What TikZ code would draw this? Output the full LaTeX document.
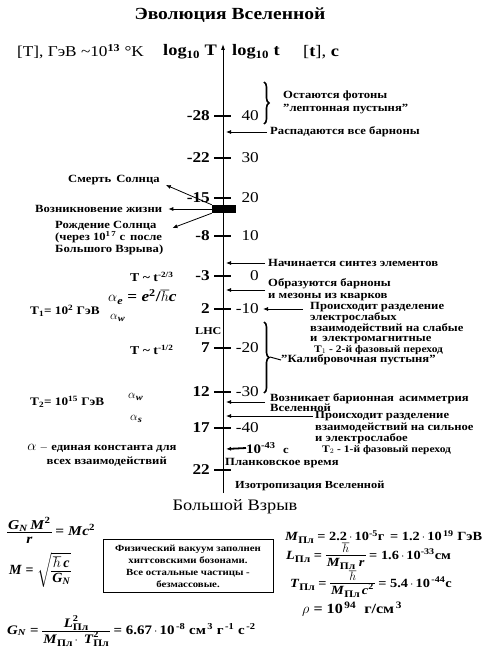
\documentclass[tikz,border=0pt]{standalone}
\usepackage{amsmath}
\usepackage{fontspec}
\setmainfont[FakeStretch=1.15]{Liberation Serif}
\newfontfamily\plainserif{Liberation Serif}
\usetikzlibrary{arrows.meta,decorations.pathreplacing,calc}
\newcommand{\vi}[1]{\textbf{\textit{#1}}}
\newcommand{\spl}{\raisebox{-3pt}{\fontsize{10}{10}\selectfont\textbf{Пл}}}
\newcommand{\splsq}{\rlap{\raisebox{6.5pt}{\fontsize{9}{9}\selectfont\textbf{2}}}\raisebox{-3pt}{\fontsize{10}{10}\selectfont\textbf{Пл}}}
\newcommand{\cd}{\,$\cdot$\,}
\newcommand{\fr}[2]{\vcenter{\hbox{\renewcommand\arraystretch{0.8}\setlength\tabcolsep{1pt}\setlength\arrayrulewidth{0.8pt}\begin{tabular}{c}#1\\\hline\rule{0pt}{10.5pt}#2\end{tabular}}}}
\begin{document}
\begin{tikzpicture}[x=1pt,y=-1pt,
  lbl/.style={inner sep=0pt, anchor=west, align=left, font=\bfseries\fontsize{11}{10}\selectfont},
  lnum/.style={inner sep=0pt, anchor=east, font=\bfseries\fontsize{15}{15}\selectfont},
  rnum/.style={inner sep=0pt, anchor=east, font=\fontsize{15}{15}\selectfont},
  arr/.style={-{Latex[length=5pt,width=4pt]}, line width=0.8pt},
  tickmark/.style={line width=1.8pt},
  brc/.style={decorate, decoration={brace, amplitude=5pt}, line width=1.6pt},
  sml/.style={inner sep=0pt, anchor=west, font=\bfseries\fontsize{10}{10}\selectfont},
  fml/.style={inner sep=0pt, anchor=west, font=\bfseries\fontsize{12.5}{12}\selectfont}
]
\useasboundingbox[fill=white] (0,0) rectangle (487,658);

% title and header
\node[font=\bfseries\fontsize{17}{17}\selectfont] (title) at (230,15) {Эволюция Вселенной};
\node[inner sep=0pt, anchor=west, font=\fontsize{15}{15}\selectfont] (hT) at (17,52) {[T], ГэВ \textasciitilde10$^{\textbf{13}}$ °K};
\node[inner sep=0pt, anchor=west, font=\bfseries\fontsize{16}{16}\selectfont] (logT) at (163,52) {log$_{\textbf{10}}$ T};
\node[inner sep=0pt, anchor=west, font=\bfseries\fontsize{16}{16}\selectfont] (logt) at (232,52) {log$_{\textbf{10}}$ t};
\node[inner sep=0pt, anchor=west, font=\fontsize{16}{16}\selectfont] (tunit) at (303,52) {[\textbf{t}], \textbf{с}};

% axis
\coordinate (axB) at (223,493);
\coordinate (axT) at (223,44);
\draw[line width=0.9pt, -{Latex[length=6pt,width=4pt]}] (axB) -- (axT);

\foreach \y/\l/\r [count=\i] in {116/-28/40, 158/-22/30, 198/-15/20, 236/-8/10, 276/-3/0, 309/2/-10, 348/7/-20, 392/12/-30, 428/17/-40, 470/22/{}} {
  \draw[tickmark] (214,\y) -- (231,\y);
  \node[lnum] (L\i) at (210,\y) {\l};
  \node[rnum] (R\i) at (259,\y) {\r};
}

% top brace
\draw[brc] (264,82) -- (264,124);
\node[lbl, anchor=north west, font=\bfseries\fontsize{11}{13}\selectfont] (foton) at (283,91) {Остаются фотоны\\"лептонная пустыня"};

% arrows to the axis on the right
\coordinate (a1) at (226,132);
\node[lbl] (raspad) at (270,132) {Распадаются все барноны};
\draw[arr, shorten <=3pt] (raspad.west) -- (a1);

\coordinate (a2) at (226,263);
\node[lbl] (sintez) at (268,263) {Начинается синтез элементов};
\draw[arr, shorten <=3pt] (sintez.west) -- (a2);

\coordinate (a3) at (226,290);
\node[lbl, anchor=north west, font=\bfseries\fontsize{11}{11.5}\selectfont] (barion) at (268,278.5) {Образуются барноны\\ и мезоны из кварков};
\draw[arr] (265,290) -- (a3);

% sun
\node[fill=black, minimum width=24pt, minimum height=8pt, inner sep=0pt] (sun) at (224,209) {};
\node[lbl] (smert) at (68,180) {Смерть\, Солнца};
\node[lbl] (zhizn) at (35,209) {Возникновение жизни};
\node[lbl, anchor=north west, font=\bfseries\fontsize{11}{12}\selectfont] (rozhd) at (55,221) {Рождение Солнца\\(через 10$^{\text{1\,7}}$ с\, после\\ Большого Взрыва)};
\draw[arr] (sun.north west) -- ($(smert.east)+(6,5)$);
\draw[arr] (sun.west) -- ($(zhizn.east)+(6,0)$);
\draw[arr] (sun.south west) -- ($(rozhd.north east)+(9,7)$);

% electroweak separation
\node[lbl, anchor=north west, font=\bfseries\fontsize{11}{9.8}\selectfont] (ew) at (310,302) {Происходит разделение\\электрослабых\\взаимодействий на слабые\\и\, электромагнитные};
\node[sml] (t1) at (314,350) {T$_1$ - 2-й фазовый переход};
\coordinate (e1s) at (303,309);
\draw[arr] (e1s) -- ($(R6.east)+(4,0)$);

% calibration desert
\draw[brc] (264,322) -- (264,393);
\coordinate (btip) at (270,357);
\node[lbl] (kal) at (281,360) {"Калибровочная пустыня"};
\draw[line width=1pt] (btip) -- (kal.west);

% baryon asymmetry
\node[lbl, anchor=north west, font=\bfseries\fontsize{11}{8.6}\selectfont] (asym) at (270,393) {Возникает барионная\, асимметрия\\ Вселенной};
\coordinate (a4) at (226,402);
\draw[arr] (265,402) -- (a4);

% strong separation
\node[lbl, anchor=north west, font=\bfseries\fontsize{11}{11.5}\selectfont] (strong) at (315,411.5) {Происходит разделение\\взаимодействий на сильное\\и электрослабое};
\node[sml] (t2) at (322,450) {T$_2$ - 1-й фазовый переход};
\coordinate (a5) at (226,416);
\draw[arr, shorten <=2pt] (strong.north west |- a5) -- (a5);

% Planck
\node[inner sep=0pt, anchor=west, font=\bfseries\fontsize{13}{13}\selectfont] (p43) at (246,448) {10$^{\text{-43}}$\ \ {\fontsize{11}{11}\selectfont с}};
\coordinate (a6) at (226,449);
\draw[-{Latex[length=5pt,width=4pt]}, line width=1.8pt] (p43.west) -- (a6);
\node[lbl] (plank) at (225,463) {Планковское время};
\node[lbl, font=\bfseries\fontsize{10.8}{10}\selectfont] (izo) at (235,486) {Изотропизация Вселенной};
\node[font=\fontsize{16}{16}\selectfont, inner sep=0pt] (bang) at (235,507) {Большой Взрыв};

% left side
\node[lbl, font=\bfseries\fontsize{12}{12}\selectfont] (tt23) at (130,277) {T \textasciitilde\ t$^{\text{-2/3}}$};
\node[lbl, font=\bfseries\fontsize{15}{15}\selectfont] (ae) at (108,297) {$\alpha$$_{\textit{e}}$ = \textit{e}$^{\textbf{2}}$/$\hbar$\textit{c}};
\node[lbl, font=\bfseries\fontsize{11.5}{12}\selectfont] (T1) at (30,311) {T$_{\textbf{1}}$= 10$^{\textbf{2}}$ ГэВ};
\node[lbl, font=\bfseries\fontsize{13}{13}\selectfont] (aw1) at (110,318) {$\alpha$$_{\textit{w}}$};
\node[lbl, font=\bfseries\fontsize{10.5}{12}\selectfont] (lhc) at (195,331) {LHC};
\node[lbl, font=\bfseries\fontsize{12}{12}\selectfont] (tt12) at (130,350) {T \textasciitilde\ t$^{\text{-1/2}}$};
\node[lbl, font=\bfseries\fontsize{11.5}{12}\selectfont] (T2) at (30,402) {T$_{\textbf{2}}$= 10$^{\textbf{15}}$ ГэВ};
\node[lbl, font=\bfseries\fontsize{13}{13}\selectfont] (aw2) at (128,397) {$\alpha$$_{\textit{w}}$};
\node[lbl, font=\bfseries\fontsize{13}{13}\selectfont] (as) at (130,419) {$\alpha$$_{\textit{s}}$};
\node[inner sep=0pt, align=center, font=\bfseries\fontsize{11}{14}\selectfont] (alpha) at (102,455) {{\fontsize{14}{14}\selectfont$\alpha$} $-$ единая константа для\\ \ \ \ всех взаимодействий};

% bottom formulas
\node[fml, font=\bfseries\fontsize{13.5}{12}\selectfont] (f1) at (7,532) {$\fr{\vi{G}$_{\vi{N}}$\,\vi{M}$^{\textbf{2}}$}{\vi{r}}$ = \vi{M}\vi{c}$^{\textbf{2}}$};
\node[fml, font=\plainserif\bfseries\fontsize{14}{12}\selectfont] (f2) at (9,570) {\vi{M} = $\sqrt{\fr{\rule{0pt}{11pt}$\hbar$\,\vi{c}}{\vi{G}$_{\vi{N}}$}}$};
\node[fml, font=\bfseries\fontsize{13}{12}\selectfont] (f3) at (7,631) {\vi{G}$_{\vi{N}}$ = $\fr{\vi{L}\splsq}{\vi{M}\spl\,$\cdot$\ \,\vi{T}\splsq}$ = 6.67\cd10$^{\textbf{\,-8}}$ см$^{\textbf{\,3}}$ г$^{\textbf{\,-1}}$ с$^{\textbf{\,-2}}$};

\node[draw, line width=1pt, minimum width=170pt, minimum height=53pt, align=center, inner sep=2pt, font=\bfseries\fontsize{9.4}{12}\selectfont] (box) at (188,566) {Физический вакуум заполнен\\хиггсовскими бозонами.\\Все остальные частицы -\\безмассовые.};

\node[fml] (m1) at (285,537) {\vi{M}\spl\ = 2.2\cd10$^{\textbf{-5}}$г \,= 1.2\cd10$^{\textbf{\,19}}$ ГэВ};
\node[fml] (m2) at (286,556) {\vi{L}\spl\ = $\fr{$\hbar$}{\vi{M}\spl\ \vi{r}}$ = 1.6\cd10$^{\textbf{-33}}$см};
\node[fml] (m3) at (290,584) {\vi{T}\spl\ = $\fr{$\hbar$}{\vi{M}\spl\,\vi{c}$^{\textbf{2}}$}$ = 5.4\cd10$^{\textbf{\,-44}}$с};
\node[fml, font=\bfseries\fontsize{14}{12}\selectfont] (m4) at (302,609) {$\rho$ = 10$^{\textbf{\,94}}$\ \ г/см$^{\textbf{\,3}}$};
\end{tikzpicture}
\end{document}
